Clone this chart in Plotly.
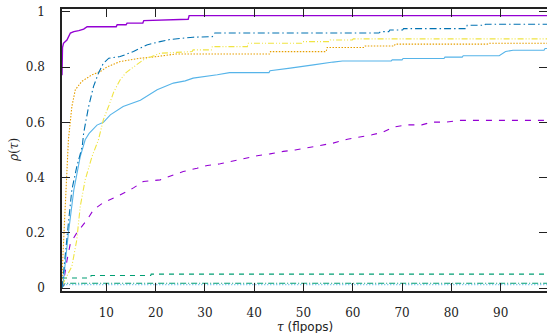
import plotly.graph_objects as go

# ---- data ----
p1_x = [1.0, 1.1, 1.3, 2.0, 2.7, 3.4, 4.4, 5.4, 6.1, 12.0, 12.2, 14.0, 14.2, 17.4, 17.6, 26.6, 26.8, 100]
p1_y = [0.77, 0.87, 0.886, 0.898, 0.923, 0.928, 0.932, 0.937, 0.946, 0.946, 0.953, 0.953, 0.959, 0.959, 0.968, 0.973, 0.986, 0.986]

b_x = [1.0, 1.7, 2.3, 3.0, 4.0, 5.1, 5.4, 6.4, 7.4, 8.4, 9.4, 10.5, 12.8, 15.5, 18.2, 20.9, 23.0, 27.6, 31.5, 32.0,
       65.3, 65.6, 67.3, 67.5, 70.1, 70.3, 83.0, 83.2, 86.7, 86.9, 100]
b_y = [0.0, 0.115, 0.236, 0.356, 0.44, 0.512, 0.562, 0.657, 0.73, 0.778, 0.814, 0.832, 0.838, 0.856, 0.88, 0.892, 0.90, 0.908, 0.91, 0.923,
       0.923, 0.928, 0.928, 0.934, 0.934, 0.939, 0.939, 0.951, 0.951, 0.955, 0.955]

y_x = [1.0, 2.0, 3.0, 4.0, 4.7, 5.7, 7.1, 8.4, 9.4, 10.5, 11.5, 12.8, 14.0, 15.5, 17.5, 20.9, 26.0, 27.4, 27.6, 31.3,
       31.5, 38.6, 38.8, 49.6, 49.8, 55.2, 55.4, 59.9, 60.1, 100]
y_y = [0.01, 0.043, 0.079, 0.175, 0.296, 0.392, 0.477, 0.537, 0.61, 0.66, 0.71, 0.754, 0.78, 0.80, 0.826, 0.85, 0.856, 0.856, 0.862, 0.862,
       0.874, 0.874, 0.886, 0.886, 0.892, 0.892, 0.898, 0.898, 0.902, 0.902]

o_x = [1.0, 1.1, 1.5, 2.0, 2.3, 3.0, 3.7, 5.0, 6.1, 7.1, 8.8, 10.1, 12.8, 16.9, 20.3, 24.0, 43.1, 43.3, 54.6, 54.8,
       62.3, 62.5, 68.4, 68.6, 87.3, 87.5, 100]
o_y = [0.0, 0.08, 0.236, 0.42, 0.537, 0.657, 0.718, 0.748, 0.76, 0.772, 0.784, 0.80, 0.82, 0.832, 0.838, 0.847, 0.847, 0.856, 0.856, 0.871,
       0.871, 0.876, 0.876, 0.883, 0.883, 0.886, 0.886]

l_x = [1.0, 1.3, 2.3, 3.4, 4.7, 5.7, 6.5, 8.1, 9.4, 10.8, 13.4, 16.9, 20.3, 23.6, 26.0, 27.6, 32.5, 35.0, 43.0, 43.2,
       47.3, 49.3, 52.0, 56.0, 57.9, 67.8, 68.0, 70.0, 70.2, 78.5, 78.7, 82.2, 82.4, 89.7, 91.0, 92.5, 98.8, 99.0, 100]
l_y = [0.0, 0.03, 0.2, 0.356, 0.476, 0.537, 0.56, 0.59, 0.6, 0.627, 0.657, 0.68, 0.718, 0.742, 0.75, 0.76, 0.772, 0.78, 0.78, 0.787,
       0.796, 0.802, 0.808, 0.818, 0.822, 0.822, 0.826, 0.826, 0.831, 0.831, 0.836, 0.836, 0.841, 0.841, 0.856, 0.861, 0.861, 0.867, 0.867]

d_x = [1.0, 1.3, 2.0, 2.7, 4.0, 6.1, 7.4, 9.4, 12.2, 15.5, 17.5, 20.9, 23.6, 25.6, 28.4, 30.5, 33.1, 35.8, 38.2, 40.6,
       43.2, 45.9, 48.3, 51.0, 53.4, 56.0, 58.9, 61.5, 63.9, 66.2, 68.2, 71.2, 74.0, 76.1, 79.0, 81.8, 100]
d_y = [0.0, 0.02, 0.1, 0.163, 0.2, 0.248, 0.284, 0.31, 0.332, 0.363, 0.386, 0.392, 0.41, 0.422, 0.434, 0.444, 0.45, 0.461, 0.469, 0.479,
       0.486, 0.495, 0.50, 0.509, 0.519, 0.525, 0.539, 0.547, 0.555, 0.565, 0.583, 0.591, 0.591, 0.601, 0.601, 0.607, 0.607]

g_x = [1.0, 1.05, 6.8, 6.9, 19.0, 19.1, 100]
g_y = [0.0, 0.037, 0.037, 0.046, 0.046, 0.051, 0.051]

t_x = [1.0, 1.6, 100]
t_y = [0.0, 0.018, 0.018]

c_x = [1.0, 1.6, 100]
c_y = [0.0, 0.013, 0.013]

x_ticks = [10, 20, 30, 40, 50, 60, 70, 80, 90]
y_ticks = [0, 0.2, 0.4, 0.6, 0.8, 1]
y_labels = ["0", "0.2", "0.4", "0.6", "0.8", "1"]

series = [
    (g_x, g_y, "#009E73", "5px,5px", 1.1),
    (t_x, t_y, "#009E73", "6px,2px,1px,2px", 1.0),
    (c_x, c_y, "#56B4E9", "1px,2px", 1.1),
    (d_x, d_y, "#9400D3", "6px,7px", 1.1),
    (l_x, l_y, "#56B4E9", "solid", 1.1),
    (o_x, o_y, "#E69F00", "1.5px,1.5px", 1.1),
    (y_x, y_y, "#F0E442", "6px,2px,1px,2px,1px,2px", 1.1),
    (b_x, b_y, "#0072B2", "7px,3px,1.5px,3px", 1.1),
    (p1_x, p1_y, "#9400D3", "solid", 1.4),
]

fig = go.Figure()
for xs, ys, col, dash, w in series:
    fig.add_trace(go.Scatter(x=xs, y=ys, mode="lines",
                             line=dict(color=col, dash=dash, width=w),
                             showlegend=False, hoverinfo="skip"))

# invisible trace for right-side mirrored ticks
fig.add_trace(go.Scatter(x=[50], y=[0.5], yaxis="y2", mode="markers",
                         marker=dict(opacity=0), showlegend=False, hoverinfo="skip"))

SERIF = "DejaVu Serif"
tickfont = dict(family=SERIF, size=12, color="#222")
fig.update_layout(
    width=547, height=333,
    margin=dict(l=62, r=0, t=9, b=42),
    paper_bgcolor="white", plot_bgcolor="white",
    font=dict(family=SERIF),
    xaxis=dict(range=[1, 99.4], tickvals=x_ticks, ticks="inside", ticklen=8, tickwidth=1,
               tickcolor="#222", showline=True, linecolor="#222", linewidth=1.5, mirror="ticks",
               showgrid=False, zeroline=False, tickfont=tickfont, ticklabelstandoff=10),
    yaxis=dict(range=[-0.01, 1.01], tickvals=y_ticks, ticktext=y_labels, ticks="inside", ticklen=8,
               tickwidth=1, tickcolor="#222", showline=True, linecolor="#222", linewidth=1.5,
               mirror=False, showgrid=False, zeroline=False, tickfont=tickfont, ticklabelstandoff=13),
    yaxis2=dict(range=[-0.01, 1.01], overlaying="y", side="right", tickvals=y_ticks, ticks="inside",
                ticklen=8, tickwidth=1, tickcolor="#222", showticklabels=False, showline=False,
                showgrid=False, zeroline=False),
    annotations=[
        dict(text="<i>ρ</i>(<i>τ</i>)", xref="paper", yref="paper", x=(14 - 62) / 485, y=0.5,
             xanchor="center", yanchor="middle", textangle=-90, showarrow=False,
             font=dict(family=SERIF, size=12, color="#222")),
        dict(text="<i>τ</i> <span style='font-family:DejaVu Sans'>(flpops)</span>", xref="paper",
             yref="paper", x=(305 - 62) / 485, y=(291 - 327) / 282, xanchor="center", yanchor="middle",
             showarrow=False, font=dict(family=SERIF, size=12, color="#222")),
    ],
)

fig.write_html("out.html")
